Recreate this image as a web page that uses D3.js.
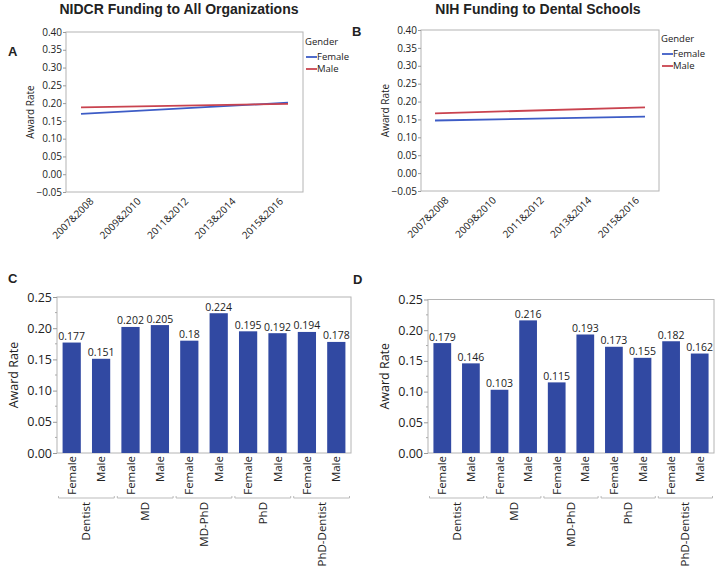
<!DOCTYPE html>
<html><head><meta charset="utf-8">
<script src="https://cdn.jsdelivr.net/npm/d3@7"></script>
<style>
body{margin:0;background:#fff;}
text{font-family:"Open Sans",sans-serif;fill:#222;}
</style></head>
<body><svg id="c" width="723" height="571"></svg>
<script>
// ---------- data ----------
const periods = ["2007&2008","2009&2010","2011&2012","2013&2014","2015&2016"];
const genders = ["Female","Male"];
// line panels: values read at first and last period (straight fit lines)
const lineEnds = [periods[0], periods[4]];
const nidcrFemale = [0.170, 0.201];
const nidcrMale   = [0.188, 0.198];
const dentalFemale = [0.147, 0.158];
const dentalMale   = [0.167, 0.184];
const lineTicks = [-0.05,0,0.05,0.10,0.15,0.20,0.25,0.30,0.35,0.40];

const degrees = ["Dentist","MD","MD-PhD","PhD","PhD-Dentist"];
const allOrgRates    = [0.177,0.151, 0.202,0.205, 0.18,0.224, 0.195,0.192, 0.194,0.178];
const dentalSchRates = [0.179,0.146, 0.103,0.216, 0.115,0.193, 0.173,0.155, 0.182,0.162];
const barTicks = [0,0.05,0.10,0.15,0.20,0.25];

const colors = {Female:"#3d5cc6", Male:"#c9434f"};
const barColor = "#3149a2";
const frameColor = "#b4b4b4";

const svg = d3.select("#c");

function linePanel(o){
  const g = svg.append("g");
  const y = d3.scaleLinear().domain([-0.05,0.40]).range([o.y1,o.y0]);
  const xAxis = d3.scalePoint().domain(periods).range([o.x0,o.x1]).padding(0.5);
  const xLine = d3.scalePoint().domain(lineEnds).range([o.x0,o.x1]).padding(o.lp);
  // frame
  g.append("rect").attr("x",o.x0).attr("y",o.y0).attr("width",o.x1-o.x0).attr("height",o.y1-o.y0)
    .attr("fill","none").attr("stroke",frameColor).attr("stroke-width",1);
  // y axis
  const ya = g.append("g").attr("transform",`translate(${o.x0},0)`)
    .call(d3.axisLeft(y).tickValues(lineTicks).tickFormat(d3.format(".2f")).tickSize(3).tickPadding(1));
  ya.select(".domain").remove();
  ya.selectAll("line").attr("stroke","#999");
  ya.selectAll("text").style("font-size","10px").attr("fill","#222");
  // x axis
  const xa = g.append("g").attr("transform",`translate(0,${o.y1})`)
    .call(d3.axisBottom(xAxis).tickSize(0).tickPadding(0));
  xa.select(".domain").remove();
  xa.selectAll("text").style("font-size","10px").attr("text-anchor","end").attr("dy",null)
    .attr("y",null).attr("transform","translate(4,10) rotate(-45)");
  // lines
  const line = d3.line().x(d=>xLine(d[0])).y(d=>y(d[1]));
  o.series.forEach(s=>{
    g.append("path").datum(lineEnds.map((p,i)=>[p,s.vals[i]]))
      .attr("d",line).attr("fill","none").attr("stroke",colors[s.name]).attr("stroke-width",1.8);
  });
  // y label
  g.append("text").attr("transform",`translate(${o.ylx},${(o.y0+o.y1)/2}) rotate(-90)`)
    .attr("text-anchor","middle").style("font-size","10px").text("Award Rate");
  // legend
  const lg = g.append("g").attr("transform",`translate(${o.lgx},${o.lgy})`);
  lg.append("text").attr("x",0).attr("y",0).style("font-size","9.5px").attr("fill","#333").text("Gender");
  genders.forEach((n,i)=>{
    const yy = 12 + i*12;
    lg.append("line").attr("x1",1).attr("x2",12).attr("y1",yy).attr("y2",yy)
      .attr("stroke",colors[n]).attr("stroke-width",1.8);
    lg.append("text").attr("x",12).attr("y",yy+3.2).style("font-size","9.5px").attr("fill","#333").text(n);
  });
  // title
  svg.append("text").attr("x",o.tx).attr("y",14).attr("text-anchor","middle")
    .style("font-family","'Liberation Sans',Arial,sans-serif").style("font-weight","bold")
    .style("font-size","14px").attr("fill","#111").text(o.title);
}

function barPanel(o){
  const g = svg.append("g");
  const cats = [];
  degrees.forEach(d=>genders.forEach(s=>cats.push(d+"|"+s)));
  const x = d3.scaleBand().domain(cats).range([o.x0,o.x1]).paddingInner(0.38).paddingOuter(0.19);
  const y = d3.scaleLinear().domain([0,0.25]).range([o.y1,o.y0]);
  g.append("rect").attr("x",o.x0).attr("y",o.y0).attr("width",o.x1-o.x0).attr("height",o.y1-o.y0)
    .attr("fill","none").attr("stroke",frameColor).attr("stroke-width",1);
  // minor ticks
  g.selectAll("line.minor").data(d3.range(0.025,0.25,0.05)).join("line")
    .attr("x1",o.x0-2).attr("x2",o.x0).attr("y1",d=>y(d)).attr("y2",d=>y(d)).attr("stroke","#aaa");
  const ya = g.append("g").attr("transform",`translate(${o.x0},0)`)
    .call(d3.axisLeft(y).tickValues(barTicks).tickFormat(d3.format(".2f")).tickSize(4).tickPadding(1));
  ya.select(".domain").remove();
  ya.selectAll("line").attr("stroke","#999");
  ya.selectAll("text").style("font-size","12.5px").attr("fill","#222");
  // bars
  g.selectAll("rect.bar").data(o.vals).join("rect")
    .attr("x",(d,i)=>x(cats[i])).attr("width",x.bandwidth())
    .attr("y",d=>y(d)).attr("height",d=>y(0)-y(d)).attr("fill",barColor);
  // value labels
  g.selectAll("text.val").data(o.vals).join("text")
    .attr("x",(d,i)=>x(cats[i])+x.bandwidth()/2).attr("y",d=>y(d)-2.5)
    .attr("text-anchor","middle").style("font-size","10.5px").attr("fill","#222").text(d=>String(d));
  // gender labels
  g.selectAll("text.gen").data(cats).join("text")
    .attr("transform",d=>`translate(${x(d)+x.bandwidth()/2+4},${o.y1+3}) rotate(-90)`)
    .attr("text-anchor","end").style("font-size","11.5px").text(d=>d.split("|")[1]);
  // group separators and labels
  const step = x.step();
  degrees.forEach(dg=>{
    const a = x(dg+"|Female") - step*0.19 + 1.5;
    const b = x(dg+"|Male") + x.bandwidth() + step*0.19 - 1.5;
    const ly = o.y1 + 45;
    g.append("path").attr("d",`M${a},${ly-2}V${ly}H${b}V${ly-2}`).attr("fill","none")
      .attr("stroke","#aaa").attr("stroke-width",0.8);
    const cx = (x(dg+"|Female") + x(dg+"|Male") + x.bandwidth())/2;
    g.append("text").attr("transform",`translate(${cx+4},${ly+4}) rotate(-90)`)
      .attr("text-anchor","end").style("font-size","11.5px").text(dg);
  });
  g.append("text").attr("transform",`translate(${o.ylx},${(o.y0+o.y1)/2+0}) rotate(-90)`)
    .attr("text-anchor","middle").style("font-size","12.5px").text("Award Rate");
}

linePanel({x0:66,x1:303,y0:32,y1:192,lp:0.0725,ylx:34,lgx:305,lgy:45,tx:179,
  title:"NIDCR Funding to All Organizations",
  series:[{name:"Female",vals:nidcrFemale},{name:"Male",vals:nidcrMale}]});
linePanel({x0:421,x1:659,y0:30,y1:191,lp:0.0667,ylx:389,lgx:661,lgy:42,tx:538,
  title:"NIH Funding to Dental Schools",
  series:[{name:"Female",vals:dentalFemale},{name:"Male",vals:dentalMale}]});
barPanel({x0:57,x1:351,y0:297,y1:453,ylx:18,vals:allOrgRates});
barPanel({x0:428,x1:714,y0:299.5,y1:453,ylx:389,vals:dentalSchRates});

// panel letters
[["A",8,56],["B",352,36],["C",8,283],["D",353,284]].forEach(l=>{
  svg.append("text").attr("x",l[1]).attr("y",l[2])
    .style("font-family","'Liberation Sans',Arial,sans-serif").style("font-weight","bold")
    .style("font-size","13px").attr("fill","#000").text(l[0]);
});
</script></body></html>
